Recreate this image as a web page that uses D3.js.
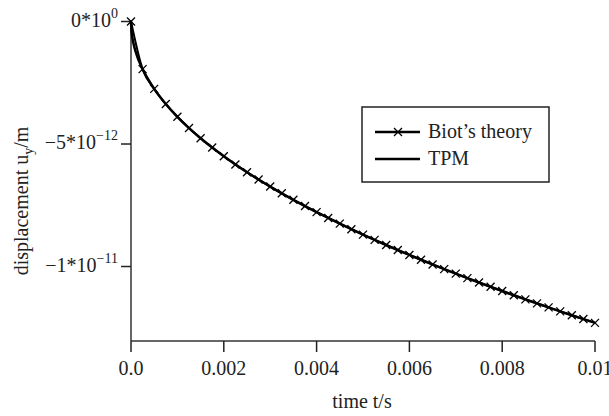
<!DOCTYPE html>
<html><head><meta charset="utf-8">
<script src="https://cdn.jsdelivr.net/npm/d3@7"></script>
<style>
body{margin:0;background:#fff;}
</style></head>
<body><svg id="c" width="609" height="416"></svg>
<script>
// time in seconds
const biotTime = d3.range(0, 41).map(k => k * 0.00025);
// displacement in units of 1e-12 m
const biotValues = [0,-1.945,-2.750,-3.369,-3.890,-4.349,-4.764,-5.145,-5.501,-5.834,-6.150,
  -6.450,-6.737,-7.012,-7.277,-7.532,-7.779,-8.018,-8.251,-8.477,-8.697,
  -8.912,-9.122,-9.327,-9.527,-9.724,-9.916,-10.106,-10.291,-10.473,-10.652,
  -10.828,-11.001,-11.172,-11.341,-11.505,-11.669,-11.830,-11.989,-12.145,-12.300];
const tpmTime = [0,0.00001,0.00002,0.00005,0.0001,0.00015,0.0002].concat(biotTime.slice(1));
const tpmValues = [0,-0.39,-0.55,-0.87,-1.23,-1.51,-1.74].concat(biotValues.slice(1));
const xTicks = [0,0.002,0.004,0.006,0.008,0.01];
const xTickLabels = ["0.0","0.002","0.004","0.006","0.008","0.01"];
const yTicks = [0,-5,-10];
const yTickMant = ["0*10","\u22125*10","\u22121*10"];
const yTickExp = ["0","\u221212","\u221211"];
const legendLabels = ["Biot\u2019s theory","TPM"];

const FONT = "serif";
const TXT = "#222";
const svg = d3.select("#c");
const x = d3.scaleLinear().domain([0,0.01]).range([131,595]);
const y = d3.scaleLinear().domain([-13.04,0]).range([341,21.5]);

// axes
svg.append("line").attr("x1",131).attr("x2",131).attr("y1",20).attr("y2",341)
  .attr("stroke","#333").attr("stroke-width",1.5);
svg.append("line").attr("x1",131).attr("x2",595).attr("y1",341).attr("y2",341)
  .attr("stroke","#333").attr("stroke-width",1.5);

xTicks.forEach((t,i)=>{
  svg.append("line").attr("x1",x(t)).attr("x2",x(t)).attr("y1",341).attr("y2",352)
    .attr("stroke","#222").attr("stroke-width",1.5);
  svg.append("text").attr("x",x(t)).attr("y",375).attr("text-anchor","middle").attr("fill",TXT)
    .attr("font-family",FONT).attr("font-size",20).text(xTickLabels[i]);
});
yTicks.forEach((v,i)=>{
  svg.append("line").attr("x1",121).attr("x2",131).attr("y1",y(v)).attr("y2",y(v))
    .attr("stroke","#222").attr("stroke-width",1.5);
  const t = svg.append("text").attr("x",118).attr("y",y(v)+5).attr("text-anchor","end").attr("fill",TXT)
    .attr("font-family",FONT).attr("font-size",20);
  t.append("tspan").text(yTickMant[i]);
  t.append("tspan").attr("dy",-9).attr("font-size",14).text(yTickExp[i]);
});

svg.append("text").attr("x",362).attr("y",408).attr("text-anchor","middle").attr("fill",TXT)
  .attr("font-family",FONT).attr("font-size",20).text("time t/s");
const yl = svg.append("text").attr("transform","translate(28,201) rotate(-90)").attr("fill",TXT)
  .attr("text-anchor","middle").attr("font-family",FONT).attr("font-size",20);
yl.append("tspan").text("displacement u");
yl.append("tspan").attr("font-size",14).attr("dy",5).text("y");
yl.append("tspan").attr("dy",-5).text("/m");

// curves
const line = d3.line().curve(d3.curveMonotoneX);
svg.append("path").attr("d", line(tpmTime.map((t,i)=>[x(t),y(tpmValues[i])])))
  .attr("fill","none").attr("stroke","#000").attr("stroke-width",2.5);
svg.append("path").attr("d", line(biotTime.map((t,i)=>[x(t),y(biotValues[i])])))
  .attr("fill","none").attr("stroke","#000").attr("stroke-width",2);
const mk = 4;
biotTime.forEach((t,i)=>{
  const cx=x(t), cy=y(biotValues[i]);
  svg.append("path").attr("d",`M${cx-mk},${cy-mk}L${cx+mk},${cy+mk}M${cx-mk},${cy+mk}L${cx+mk},${cy-mk}`)
    .attr("stroke","#000").attr("stroke-width",1.3);
});

// legend
svg.append("rect").attr("x",362).attr("y",107).attr("width",187).attr("height",75)
  .attr("fill","#fff").attr("stroke","#222").attr("stroke-width",1.5);
svg.append("line").attr("x1",375).attr("x2",420).attr("y1",132).attr("y2",132).attr("stroke","#000").attr("stroke-width",2.5);
svg.append("path").attr("d","M394,128L402,136M394,136L402,128").attr("stroke","#000").attr("stroke-width",1.3);
svg.append("line").attr("x1",375).attr("x2",420).attr("y1",159).attr("y2",159).attr("stroke","#000").attr("stroke-width",2.5);
svg.append("text").attr("x",428).attr("y",138).attr("fill",TXT).attr("font-family",FONT).attr("font-size",20).text(legendLabels[0]);
svg.append("text").attr("x",428).attr("y",165).attr("fill",TXT).attr("font-family",FONT).attr("font-size",20).text(legendLabels[1]);
</script></body></html>
